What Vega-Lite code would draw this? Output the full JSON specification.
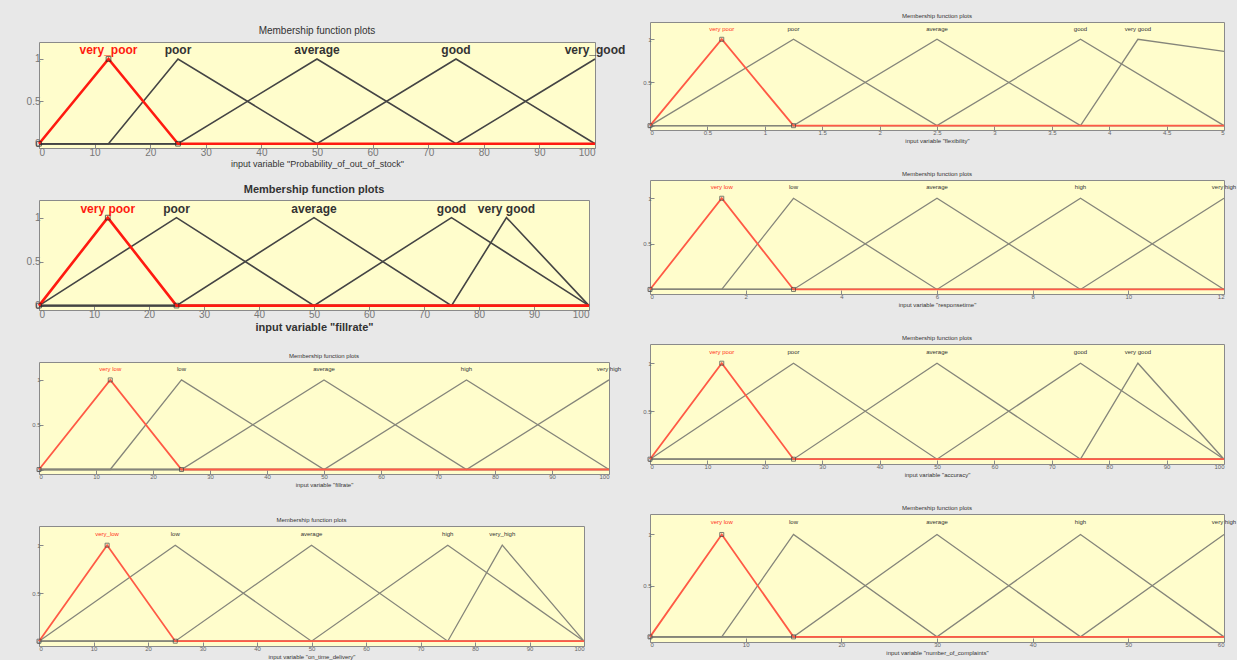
{
"$schema": "https://vega.github.io/schema/vega-lite/v6.json",
"padding": {"left": 25, "top": 12, "right": 0, "bottom": 0},
"background": "#e8e8e8",
"datasets": {
"L1": [
{"k":1,"mf":"very_poor","x":0,"y":0},{"k":1,"mf":"very_poor","x":12.5,"y":1},{"k":1,"mf":"very_poor","x":25,"y":0},{"k":1,"mf":"very_poor","x":100,"y":0},
{"k":2,"mf":"poor","x":0,"y":0},{"k":2,"mf":"poor","x":12.5,"y":0},{"k":2,"mf":"poor","x":25,"y":1},{"k":2,"mf":"poor","x":50,"y":0},{"k":2,"mf":"poor","x":100,"y":0},
{"k":3,"mf":"average","x":0,"y":0},{"k":3,"mf":"average","x":25,"y":0},{"k":3,"mf":"average","x":50,"y":1},{"k":3,"mf":"average","x":75,"y":0},{"k":3,"mf":"average","x":100,"y":0},
{"k":4,"mf":"good","x":0,"y":0},{"k":4,"mf":"good","x":50,"y":0},{"k":4,"mf":"good","x":75,"y":1},{"k":4,"mf":"good","x":100,"y":0},
{"k":5,"mf":"very_good","x":0,"y":0},{"k":5,"mf":"very_good","x":75,"y":0},{"k":5,"mf":"very_good","x":100,"y":1}
],
"L2": [
{"k":1,"mf":"very poor","x":0,"y":0},{"k":1,"mf":"very poor","x":12.5,"y":1},{"k":1,"mf":"very poor","x":25,"y":0},{"k":1,"mf":"very poor","x":100,"y":0},
{"k":2,"mf":"poor","x":0,"y":0},{"k":2,"mf":"poor","x":25,"y":1},{"k":2,"mf":"poor","x":50,"y":0},{"k":2,"mf":"poor","x":100,"y":0},
{"k":3,"mf":"average","x":0,"y":0},{"k":3,"mf":"average","x":25,"y":0},{"k":3,"mf":"average","x":50,"y":1},{"k":3,"mf":"average","x":75,"y":0},{"k":3,"mf":"average","x":100,"y":0},
{"k":4,"mf":"good","x":0,"y":0},{"k":4,"mf":"good","x":50,"y":0},{"k":4,"mf":"good","x":75,"y":1},{"k":4,"mf":"good","x":100,"y":0},
{"k":5,"mf":"very good","x":0,"y":0},{"k":5,"mf":"very good","x":75,"y":0},{"k":5,"mf":"very good","x":85,"y":1},{"k":5,"mf":"very good","x":100,"y":0}
],
"L3": [
{"k":1,"mf":"very low","x":0,"y":0},{"k":1,"mf":"very low","x":12.5,"y":1},{"k":1,"mf":"very low","x":25,"y":0},{"k":1,"mf":"very low","x":100,"y":0},
{"k":2,"mf":"low","x":0,"y":0},{"k":2,"mf":"low","x":12.5,"y":0},{"k":2,"mf":"low","x":25,"y":1},{"k":2,"mf":"low","x":50,"y":0},{"k":2,"mf":"low","x":100,"y":0},
{"k":3,"mf":"average","x":0,"y":0},{"k":3,"mf":"average","x":25,"y":0},{"k":3,"mf":"average","x":50,"y":1},{"k":3,"mf":"average","x":75,"y":0},{"k":3,"mf":"average","x":100,"y":0},
{"k":4,"mf":"high","x":0,"y":0},{"k":4,"mf":"high","x":50,"y":0},{"k":4,"mf":"high","x":75,"y":1},{"k":4,"mf":"high","x":100,"y":0},
{"k":5,"mf":"very high","x":0,"y":0},{"k":5,"mf":"very high","x":75,"y":0},{"k":5,"mf":"very high","x":100,"y":1}
],
"L4": [
{"k":1,"mf":"very_low","x":0,"y":0},{"k":1,"mf":"very_low","x":12.5,"y":1},{"k":1,"mf":"very_low","x":25,"y":0},{"k":1,"mf":"very_low","x":100,"y":0},
{"k":2,"mf":"low","x":0,"y":0},{"k":2,"mf":"low","x":25,"y":1},{"k":2,"mf":"low","x":50,"y":0},{"k":2,"mf":"low","x":100,"y":0},
{"k":3,"mf":"average","x":0,"y":0},{"k":3,"mf":"average","x":25,"y":0},{"k":3,"mf":"average","x":50,"y":1},{"k":3,"mf":"average","x":75,"y":0},{"k":3,"mf":"average","x":100,"y":0},
{"k":4,"mf":"high","x":0,"y":0},{"k":4,"mf":"high","x":50,"y":0},{"k":4,"mf":"high","x":75,"y":1},{"k":4,"mf":"high","x":100,"y":0},
{"k":5,"mf":"very_high","x":0,"y":0},{"k":5,"mf":"very_high","x":75,"y":0},{"k":5,"mf":"very_high","x":85,"y":1},{"k":5,"mf":"very_high","x":100,"y":0}
],
"R1": [
{"k":1,"mf":"very poor","x":0,"y":0},{"k":1,"mf":"very poor","x":0.625,"y":1},{"k":1,"mf":"very poor","x":1.25,"y":0},{"k":1,"mf":"very poor","x":5,"y":0},
{"k":2,"mf":"poor","x":0,"y":0},{"k":2,"mf":"poor","x":1.25,"y":1},{"k":2,"mf":"poor","x":2.5,"y":0},{"k":2,"mf":"poor","x":5,"y":0},
{"k":3,"mf":"average","x":0,"y":0},{"k":3,"mf":"average","x":1.25,"y":0},{"k":3,"mf":"average","x":2.5,"y":1},{"k":3,"mf":"average","x":3.75,"y":0},{"k":3,"mf":"average","x":5,"y":0},
{"k":4,"mf":"good","x":0,"y":0},{"k":4,"mf":"good","x":2.5,"y":0},{"k":4,"mf":"good","x":3.75,"y":1},{"k":4,"mf":"good","x":5,"y":0},
{"k":5,"mf":"very good","x":0,"y":0},{"k":5,"mf":"very good","x":3.75,"y":0},{"k":5,"mf":"very good","x":4.25,"y":1},{"k":5,"mf":"very good","x":5,"y":0.86}
],
"R2": [
{"k":1,"mf":"very low","x":0,"y":0},{"k":1,"mf":"very low","x":1.5,"y":1},{"k":1,"mf":"very low","x":3,"y":0},{"k":1,"mf":"very low","x":12,"y":0},
{"k":2,"mf":"low","x":0,"y":0},{"k":2,"mf":"low","x":1.5,"y":0},{"k":2,"mf":"low","x":3,"y":1},{"k":2,"mf":"low","x":6,"y":0},{"k":2,"mf":"low","x":12,"y":0},
{"k":3,"mf":"average","x":0,"y":0},{"k":3,"mf":"average","x":3,"y":0},{"k":3,"mf":"average","x":6,"y":1},{"k":3,"mf":"average","x":9,"y":0},{"k":3,"mf":"average","x":12,"y":0},
{"k":4,"mf":"high","x":0,"y":0},{"k":4,"mf":"high","x":6,"y":0},{"k":4,"mf":"high","x":9,"y":1},{"k":4,"mf":"high","x":12,"y":0},
{"k":5,"mf":"very high","x":0,"y":0},{"k":5,"mf":"very high","x":9,"y":0},{"k":5,"mf":"very high","x":12,"y":1}
],
"R3": [
{"k":1,"mf":"very poor","x":0,"y":0},{"k":1,"mf":"very poor","x":12.5,"y":1},{"k":1,"mf":"very poor","x":25,"y":0},{"k":1,"mf":"very poor","x":100,"y":0},
{"k":2,"mf":"poor","x":0,"y":0},{"k":2,"mf":"poor","x":25,"y":1},{"k":2,"mf":"poor","x":50,"y":0},{"k":2,"mf":"poor","x":100,"y":0},
{"k":3,"mf":"average","x":0,"y":0},{"k":3,"mf":"average","x":25,"y":0},{"k":3,"mf":"average","x":50,"y":1},{"k":3,"mf":"average","x":75,"y":0},{"k":3,"mf":"average","x":100,"y":0},
{"k":4,"mf":"good","x":0,"y":0},{"k":4,"mf":"good","x":50,"y":0},{"k":4,"mf":"good","x":75,"y":1},{"k":4,"mf":"good","x":100,"y":0},
{"k":5,"mf":"very good","x":0,"y":0},{"k":5,"mf":"very good","x":75,"y":0},{"k":5,"mf":"very good","x":85,"y":1},{"k":5,"mf":"very good","x":100,"y":0}
],
"R4": [
{"k":1,"mf":"very low","x":0,"y":0},{"k":1,"mf":"very low","x":7.5,"y":1},{"k":1,"mf":"very low","x":15,"y":0},{"k":1,"mf":"very low","x":60,"y":0},
{"k":2,"mf":"low","x":0,"y":0},{"k":2,"mf":"low","x":7.5,"y":0},{"k":2,"mf":"low","x":15,"y":1},{"k":2,"mf":"low","x":30,"y":0},{"k":2,"mf":"low","x":60,"y":0},
{"k":3,"mf":"average","x":0,"y":0},{"k":3,"mf":"average","x":15,"y":0},{"k":3,"mf":"average","x":30,"y":1},{"k":3,"mf":"average","x":45,"y":0},{"k":3,"mf":"average","x":60,"y":0},
{"k":4,"mf":"high","x":0,"y":0},{"k":4,"mf":"high","x":30,"y":0},{"k":4,"mf":"high","x":45,"y":1},{"k":4,"mf":"high","x":60,"y":0},
{"k":5,"mf":"very high","x":0,"y":0},{"k":5,"mf":"very high","x":45,"y":0},{"k":5,"mf":"very high","x":60,"y":1}
]
},
"hconcat": [
{
"bounds": "flush",
"spacing": 19,
"vconcat": [
{"width": 10, "height": 1, "data": {"values": [{"a": 0}]}, "mark": {"type": "rule", "opacity": 0}, "encoding": {}, "view": {"fill": null, "stroke": null}},
{
"bounds": "flush",
"spacing": 52,
"vconcat": [
{
"width": 556, "height": 106,
"data": {"name": "L1"},
"title": {"text": "Membership function plots", "fontSize": 10, "offset": 6, "color": "#333"},
"encoding": {
"x": {"field": "x", "type": "quantitative", "scale": {"domain": [0, 100], "nice": false, "zero": false}, "axis": {"values": [0,10,20,30,40,50,60,70,80,90,100], "title": "input variable \"Probability_of_out_of_stock\"", "labelFontSize": 10, "titleFontSize": 9, "labelColor": "#777"}},
"y": {"field": "y", "type": "quantitative", "scale": {"domain": [-0.05, 1.2]}, "axis": {"values": [0, 0.5, 1], "format": "~g", "title": null, "labelFontSize": 10, "labelColor": "#777"}}
},
"layer": [
{"transform": [{"filter": "datum.k > 1"}], "mark": {"type": "line", "color": "#444", "strokeWidth": 1.6}, "encoding": {"detail": {"field": "k"}}},
{"transform": [{"filter": "datum.k == 1"}], "mark": {"type": "line", "color": "#ff1a10", "strokeWidth": 2.6}},
{"transform": [{"filter": "datum.k == 1 && datum.x <= 25"}], "mark": {"type": "point", "shape": "square", "filled": false, "color": "#222", "size": 22, "strokeWidth": 1}},
{"transform": [{"filter": "datum.y == 1"}], "mark": {"type": "text", "fontSize": 12, "fontWeight": "bold", "baseline": "middle"}, "encoding": {"y": {"datum": 1.1}, "text": {"field": "mf"}, "color": {"condition": {"test": "datum.k == 1", "value": "#ff1a10"}, "value": "#333"}}}
]
},
{
"width": 550, "height": 110,
"data": {"name": "L2"},
"title": {"text": "Membership function plots", "fontSize": 11, "offset": 5, "color": "#333", "fontWeight": "bold"},
"encoding": {
"x": {"field": "x", "type": "quantitative", "scale": {"domain": [0, 100], "nice": false, "zero": false}, "axis": {"values": [0,10,20,30,40,50,60,70,80,90,100], "title": "input variable \"fillrate\"", "labelFontSize": 10, "titleFontSize": 11, "titleFontWeight": "bold", "labelColor": "#777"}},
"y": {"field": "y", "type": "quantitative", "scale": {"domain": [-0.05, 1.2]}, "axis": {"values": [0, 0.5, 1], "format": "~g", "title": null, "labelFontSize": 10, "labelColor": "#777"}}
},
"layer": [
{"transform": [{"filter": "datum.k > 1"}], "mark": {"type": "line", "color": "#444", "strokeWidth": 1.6}, "encoding": {"detail": {"field": "k"}}},
{"transform": [{"filter": "datum.k == 1"}], "mark": {"type": "line", "color": "#ff1a10", "strokeWidth": 2.6}},
{"transform": [{"filter": "datum.k == 1 && datum.x <= 25"}], "mark": {"type": "point", "shape": "square", "filled": false, "color": "#222", "size": 22, "strokeWidth": 1}},
{"transform": [{"filter": "datum.y == 1"}], "mark": {"type": "text", "fontSize": 12, "fontWeight": "bold", "baseline": "middle"}, "encoding": {"y": {"datum": 1.1}, "text": {"field": "mf"}, "color": {"condition": {"test": "datum.k == 1", "value": "#ff1a10"}, "value": "#333"}}}
]
},
{
"width": 570, "height": 112,
"data": {"name": "L3"},
"title": {"text": "Membership function plots"},
"encoding": {
"x": {"field": "x", "type": "quantitative", "scale": {"domain": [0, 100], "nice": false, "zero": false}, "axis": {"values": [0,10,20,30,40,50,60,70,80,90,100], "title": "input variable \"fillrate\""}},
"y": {"field": "y", "type": "quantitative", "scale": {"domain": [-0.05, 1.2]}, "axis": {"values": [0, 0.5, 1], "format": "~g", "title": null}}
},
"layer": [
{"transform": [{"filter": "datum.k > 1"}], "mark": {"type": "line", "color": "#85857a", "strokeWidth": 1.3}, "encoding": {"detail": {"field": "k"}}},
{"transform": [{"filter": "datum.k == 1"}], "mark": {"type": "line", "color": "#ff5a45", "strokeWidth": 1.8}},
{"transform": [{"filter": "datum.k == 1 && datum.x <= 25"}], "mark": {"type": "point", "shape": "square", "filled": false, "color": "#444", "size": 16, "strokeWidth": 1}},
{"transform": [{"filter": "datum.y == 1"}], "mark": {"type": "text", "fontSize": 6, "baseline": "middle"}, "encoding": {"y": {"datum": 1.12}, "text": {"field": "mf"}, "color": {"condition": {"test": "datum.k == 1", "value": "#ff3020"}, "value": "#333"}}}
]
},
{
"width": 545, "height": 120,
"data": {"name": "L4"},
"title": {"text": "Membership function plots"},
"encoding": {
"x": {"field": "x", "type": "quantitative", "scale": {"domain": [0, 100], "nice": false, "zero": false}, "axis": {"values": [0,10,20,30,40,50,60,70,80,90,100], "title": "input variable \"on_time_delivery\""}},
"y": {"field": "y", "type": "quantitative", "scale": {"domain": [-0.05, 1.2]}, "axis": {"values": [0, 0.5, 1], "format": "~g", "title": null}}
},
"layer": [
{"transform": [{"filter": "datum.k > 1"}], "mark": {"type": "line", "color": "#85857a", "strokeWidth": 1.3}, "encoding": {"detail": {"field": "k"}}},
{"transform": [{"filter": "datum.k == 1"}], "mark": {"type": "line", "color": "#ff5a45", "strokeWidth": 1.8}},
{"transform": [{"filter": "datum.k == 1 && datum.x <= 25"}], "mark": {"type": "point", "shape": "square", "filled": false, "color": "#444", "size": 16, "strokeWidth": 1}},
{"transform": [{"filter": "datum.y == 1"}], "mark": {"type": "text", "fontSize": 6, "baseline": "middle"}, "encoding": {"y": {"datum": 1.12}, "text": {"field": "mf"}, "color": {"condition": {"test": "datum.k == 1", "value": "#ff3020"}, "value": "#333"}}}
]
}
]
}
]
},
{
"bounds": "flush",
"spacing": 50,
"vconcat": [
{
"width": 574, "height": 108,
"data": {"name": "R1"},
"title": {"text": "Membership function plots"},
"encoding": {
"x": {"field": "x", "type": "quantitative", "scale": {"domain": [0, 5], "nice": false, "zero": false}, "axis": {"values": [0,0.5,1,1.5,2,2.5,3,3.5,4,4.5,5], "format": "~g", "title": "input variable \"flexibility\""}},
"y": {"field": "y", "type": "quantitative", "scale": {"domain": [-0.05, 1.2]}, "axis": {"values": [0, 0.5, 1], "format": "~g", "title": null}}
},
"layer": [
{"transform": [{"filter": "datum.k > 1"}], "mark": {"type": "line", "color": "#85857a", "strokeWidth": 1.3}, "encoding": {"detail": {"field": "k"}}},
{"transform": [{"filter": "datum.k == 1"}], "mark": {"type": "line", "color": "#ff5a45", "strokeWidth": 1.8}},
{"transform": [{"filter": "datum.k == 1 && datum.x <= 1.25"}], "mark": {"type": "point", "shape": "square", "filled": false, "color": "#444", "size": 16, "strokeWidth": 1}},
{"transform": [{"filter": "datum.y == 1"}], "mark": {"type": "text", "fontSize": 6, "baseline": "middle"}, "encoding": {"y": {"datum": 1.12}, "text": {"field": "mf"}, "color": {"condition": {"test": "datum.k == 1", "value": "#ff3020"}, "value": "#333"}}}
]
},
{
"width": 574, "height": 114,
"data": {"name": "R2"},
"title": {"text": "Membership function plots"},
"encoding": {
"x": {"field": "x", "type": "quantitative", "scale": {"domain": [0, 12], "nice": false, "zero": false}, "axis": {"values": [0,2,4,6,8,10,12], "title": "input variable \"responsetime\""}},
"y": {"field": "y", "type": "quantitative", "scale": {"domain": [-0.05, 1.2]}, "axis": {"values": [0, 0.5, 1], "format": "~g", "title": null}}
},
"layer": [
{"transform": [{"filter": "datum.k > 1"}], "mark": {"type": "line", "color": "#85857a", "strokeWidth": 1.3}, "encoding": {"detail": {"field": "k"}}},
{"transform": [{"filter": "datum.k == 1"}], "mark": {"type": "line", "color": "#ff5a45", "strokeWidth": 1.8}},
{"transform": [{"filter": "datum.k == 1 && datum.x <= 3"}], "mark": {"type": "point", "shape": "square", "filled": false, "color": "#444", "size": 16, "strokeWidth": 1}},
{"transform": [{"filter": "datum.y == 1"}], "mark": {"type": "text", "fontSize": 6, "baseline": "middle"}, "encoding": {"y": {"datum": 1.12}, "text": {"field": "mf"}, "color": {"condition": {"test": "datum.k == 1", "value": "#ff3020"}, "value": "#333"}}}
]
},
{
"width": 574, "height": 120,
"data": {"name": "R3"},
"title": {"text": "Membership function plots"},
"encoding": {
"x": {"field": "x", "type": "quantitative", "scale": {"domain": [0, 100], "nice": false, "zero": false}, "axis": {"values": [0,10,20,30,40,50,60,70,80,90,100], "title": "input variable \"accuracy\""}},
"y": {"field": "y", "type": "quantitative", "scale": {"domain": [-0.05, 1.2]}, "axis": {"values": [0, 0.5, 1], "format": "~g", "title": null}}
},
"layer": [
{"transform": [{"filter": "datum.k > 1"}], "mark": {"type": "line", "color": "#85857a", "strokeWidth": 1.3}, "encoding": {"detail": {"field": "k"}}},
{"transform": [{"filter": "datum.k == 1"}], "mark": {"type": "line", "color": "#ff5a45", "strokeWidth": 1.8}},
{"transform": [{"filter": "datum.k == 1 && datum.x <= 25"}], "mark": {"type": "point", "shape": "square", "filled": false, "color": "#444", "size": 16, "strokeWidth": 1}},
{"transform": [{"filter": "datum.y == 1"}], "mark": {"type": "text", "fontSize": 6, "baseline": "middle"}, "encoding": {"y": {"datum": 1.12}, "text": {"field": "mf"}, "color": {"condition": {"test": "datum.k == 1", "value": "#ff3020"}, "value": "#333"}}}
]
},
{
"width": 574, "height": 128,
"data": {"name": "R4"},
"title": {"text": "Membership function plots"},
"encoding": {
"x": {"field": "x", "type": "quantitative", "scale": {"domain": [0, 60], "nice": false, "zero": false}, "axis": {"values": [0,10,20,30,40,50,60], "title": "input variable \"number_of_complaints\""}},
"y": {"field": "y", "type": "quantitative", "scale": {"domain": [-0.05, 1.2]}, "axis": {"values": [0, 0.5, 1], "format": "~g", "title": null}}
},
"layer": [
{"transform": [{"filter": "datum.k > 1"}], "mark": {"type": "line", "color": "#85857a", "strokeWidth": 1.3}, "encoding": {"detail": {"field": "k"}}},
{"transform": [{"filter": "datum.k == 1"}], "mark": {"type": "line", "color": "#ff5a45", "strokeWidth": 1.8}},
{"transform": [{"filter": "datum.k == 1 && datum.x <= 15"}], "mark": {"type": "point", "shape": "square", "filled": false, "color": "#444", "size": 16, "strokeWidth": 1}},
{"transform": [{"filter": "datum.y == 1"}], "mark": {"type": "text", "fontSize": 6, "baseline": "middle"}, "encoding": {"y": {"datum": 1.12}, "text": {"field": "mf"}, "color": {"condition": {"test": "datum.k == 1", "value": "#ff3020"}, "value": "#333"}}}
]
}
]
}
],
"spacing": 16,
"config": {
"font": "Liberation Sans",
"view": {"fill": "#fffdcc", "stroke": "#8a8a8a", "strokeWidth": 1},
"axis": {"grid": false, "domain": false, "tickColor": "#888", "tickSize": -4, "labelColor": "#666", "labelFontSize": 6, "titleFontSize": 6, "titleColor": "#333", "titleFontWeight": "normal", "labelPadding": 3, "titlePadding": 2},
"title": {"fontSize": 6, "fontWeight": "normal", "color": "#333", "offset": 3},
"text": {"font": "Liberation Sans"}
}
}
